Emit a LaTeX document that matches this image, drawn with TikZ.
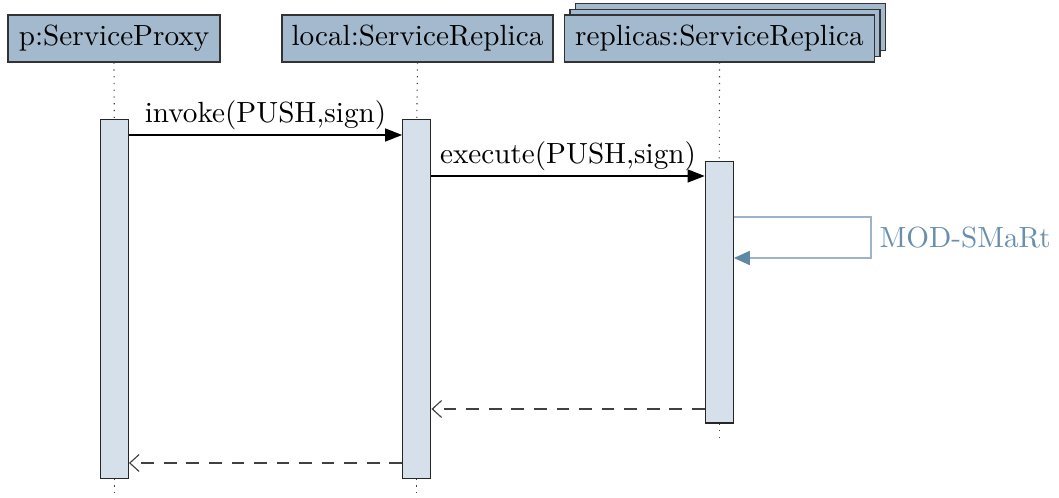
\documentclass[tikz,border=0pt]{standalone}
\usetikzlibrary{arrows.meta,shadows}
\definecolor{hdrfill}{HTML}{A3B9CD}
\definecolor{actfill}{HTML}{D6E0EA}
\definecolor{selfline}{HTML}{9DB4C8}
\definecolor{selftip}{HTML}{5F87A6}
\definecolor{selftext}{HTML}{6A8FAE}
\tikzset{
  every node/.style={font=\fontsize{10.35}{12}\selectfont},
  hdr/.style={draw=black!80, fill=hdrfill, minimum height=16.7pt, inner sep=0pt},
  act/.style={draw=black!85, fill=actfill, minimum width=10pt, inner sep=0pt},
  life/.style={draw=black!75, dotted},
  msg/.style={draw=black, -{Triangle[length=6pt,width=4.6pt]}},
  ret/.style={draw=black!75, dashed, dash pattern=on 4.5pt off 3.5pt, -{Straight Barb[length=3.3pt,width=6pt]}},
  selfmsg/.style={draw=selfline, -{Triangle[length=5.6pt,width=5pt,color=selftip,fill=selftip]}},
  lbl/.style={inner sep=1.5pt},
}
\begin{document}
\begin{tikzpicture}[x=0.3546pt, y=-0.3546pt]
\useasboundingbox (0,0) rectangle (1059,498);
% headers
\node[hdr, minimum width=75.2pt] (b1) at (114,38.5) {p:ServiceProxy};
\node[hdr, minimum width=96.1pt] (b2) at (417.5,38.5) {local:ServiceReplica};
\node[hdr, minimum width=109.9pt, double copy shadow={shadow xshift=1.95pt, shadow yshift=2.05pt, draw=black!80, fill=hdrfill}] (b3) at (719.5,38.5) {replicas:ServiceReplica};
% activations
\node[act, minimum height=127pt] (a1) at (114.3,299) {};
\node[act, minimum height=127pt] (a2) at (416.8,299) {};
\node[act, minimum height=92.7pt] (a3) at (719.3,292.3) {};
% lifeline ends
\coordinate (e1) at (114.3,498);
\coordinate (e2) at (416.8,498);
\coordinate (e3) at (719.3,442);
% lifelines
\draw[life] (b1.south) -- (a1.north);
\draw[life] (a1.south) -- (e1);
\draw[life] (b2.south) -- (a2.north);
\draw[life] (a2.south) -- (e2);
\draw[life] (b3.south) -- (a3.north);
\draw[life] (a3.south) -- (e3);
% messages
\draw[msg] (a1.east |- 0,135) -- node[above, lbl] {invoke(PUSH,sign)} (a2.west |- 0,135);
\draw[msg] (a2.east |- 0,176) -- node[above, lbl] {execute(PUSH,sign)} (a3.west |- 0,176);
\coordinate (s1) at (871,217);
\draw[selfmsg] (a3.east |- 0,217) -- (s1) |- (a3.east |- 0,258);
\node[anchor=west, text=selftext, inner sep=0pt] (sl) at (879,238) {MOD-SMaRt};
\draw[ret] (a3.west |- 0,409) -- (a2.east |- 0,409);
\draw[ret] (a2.west |- 0,463) -- (a1.east |- 0,463);
\end{tikzpicture}
\end{document}
